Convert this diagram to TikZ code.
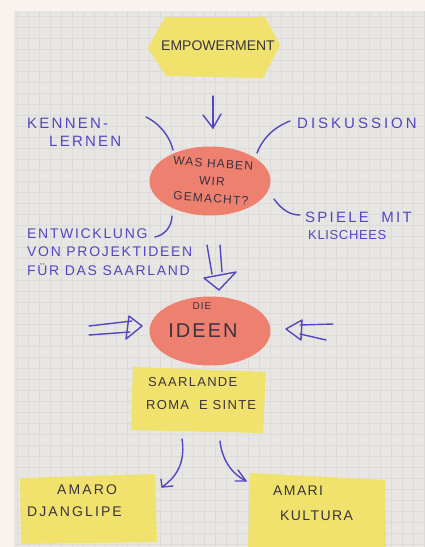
\documentclass[tikz,border=0pt]{standalone}
\usepackage{fontspec}
\setmainfont{Liberation Sans}
\newfontfamily\hand{Liberation Sans}
% marker lettering: size, baseline skip, extra letter spacing (percent of em)
\newcommand\mk[3]{\hand\addfontfeatures{LetterSpace=#3}\fontsize{#1}{#2}\selectfont}
\usetikzlibrary{shapes.geometric,arrows.meta,calc}
\definecolor{bgpink}{HTML}{F9F2EE}
\definecolor{paper}{HTML}{E8E6E3}
\definecolor{gridline}{HTML}{DDDBD9}
\definecolor{note}{HTML}{F0E26C}
\definecolor{disc}{HTML}{EE8070}
\definecolor{marker}{HTML}{5247C0}
\definecolor{ink}{HTML}{3A3340}
\tikzset{
  pen/.style={draw=marker, line width=1.4pt, line cap=round, line join=round},
  penlabel/.style={text=marker, align=left, inner sep=0pt, anchor=west},
  notetext/.style={text=ink, align=left, inner sep=0pt},
  disc/.style={ellipse, fill=disc, draw=none, minimum width=121pt, minimum height=69pt, inner sep=0pt},
}
\begin{document}
\begin{tikzpicture}[x=1pt,y=-1pt]
\useasboundingbox (0,0) rectangle (425,547);
% backdrop and squared flipchart paper
\fill[bgpink] (0,0) rectangle (425,547);
\fill[paper] (14,11) rectangle (425,547);
\begin{scope}
\clip (14,11) rectangle (425,547);
\foreach \gx in {0,...,38} \draw[gridline, line width=0.3pt] (17+\gx*11,11) -- (17+\gx*11,547);
\foreach \gy in {0,...,49} \draw[gridline, line width=0.3pt] (14,16+\gy*11) -- (425,16+\gy*11);
\end{scope}

% hexagon card at the top
\fill[note] (148,48) -- (165,17) -- (265,17) -- (280,45) -- (263,78) -- (166,76) -- cycle;
\node[notetext, font=\mk{14}{16}{0}] (emp) at (218,46) {EMPOWERMENT};
\coordinate (empbot) at (213,96);

% central discs
\node[disc] (was) at (210,181) {};
\node[notetext, align=center, font=\mk{12}{17.5}{10}, rotate=-4] (wastext) at (212,181) {WAS HABEN\\WIR\\GEMACHT?};
\node[disc] (ideen) at (210,331) {};
\node[notetext, font=\mk{10}{12}{10}] (die) at (202,306) {DIE};
\node[notetext, font=\mk{20}{22}{10}] (ideentext) at (203,331) {IDEEN};

% pen labels around the first disc
\node[penlabel, font=\mk{15}{18}{15}] (kenn) at (27,132) {KENNEN-\\\hspace*{22pt}LERNEN};
\node[penlabel, font=\mk{15}{18}{20}] (disk) at (297,123) {DISKUSSION};
\node[penlabel, font=\mk{15}{18}{15}] (spiel) at (305,217) {SPIELE\hspace{6pt} MIT};
\node[penlabel, font=\mk{13}{18}{5}] (klisch) at (308,235) {KLISCHEES};
\node[penlabel, font=\mk{14}{18.5}{12}] (entw) at (27,252) {ENTWICKLUNG\\VON PROJEKTIDEEN\\FÜR DAS SAARLAND};

\draw[pen] (146,117) .. controls (162,125) and (170,138) .. (173,150);
\draw[pen] (290,121) .. controls (272,128) and (262,140) .. (257,153);
\draw[pen] (274,199) .. controls (282,210) and (290,215) .. (300,215);
\draw[pen] (172,216) .. controls (172,226) and (165,235) .. (155,237);

% single arrow into the first disc
\draw[pen] (empbot) -- (213,128);
\draw[pen] (203,115) -- (213,128) -- (221,114);

% hollow double arrows pointing at the second disc
\coordinate (dtop) at (214,245);
\draw[pen] (207,245) -- (212,274);
\draw[pen] (220,245) -- (222,272);
\draw[pen] (204,278) -- (236,272) -- (219,290) -- cycle;

\coordinate (ltail) at (89,330);
\draw[pen] (89,326) -- (132,321);
\draw[pen] (89,335) -- (130,332);
\draw[pen] (129,316) -- (142,326) -- (126,339) -- cycle;

\coordinate (rtail) at (333,330);
\draw[pen] (333,324) -- (300,325);
\draw[pen] (326,340) -- (300,334);
\draw[pen] (302,320) -- (286,329) -- (301,340) -- cycle;

% cards below
\fill[note] (133,367) -- (266,372) -- (263,433) -- (131,430) -- cycle;
\node[notetext, anchor=west, font=\mk{13}{23}{10}] (roma) at (146,394) {\hspace*{2pt}SAARLANDE\\ROMA\hspace{10pt}E SINTE};

\fill[note] (20,478) -- (155,474) -- (157,542) -- (21,544) -- cycle;
\node[notetext, anchor=west, font=\mk{14}{22}{15}] (amaro) at (27,501) {\hspace*{30pt}AMARO\\DJANGLIPE};

\fill[note] (250,473) -- (385,480) -- (386,547) -- (248,547) -- cycle;
\node[notetext, anchor=west, font=\mk{14}{25}{10}] (amari) at (273,503) {AMARI\\\hspace*{7pt}KULTURA};

% curved arrows from the middle card
\draw[pen] (182,439) .. controls (185,458) and (180,475) .. (162,487);
\draw[pen] (161,479) -- (162,487) -- (173,486);
\draw[pen] (220,441) .. controls (222,460) and (232,474) .. (246,481);
\draw[pen] (238,470) -- (246,481) -- (235,481);
\end{tikzpicture}
\end{document}
